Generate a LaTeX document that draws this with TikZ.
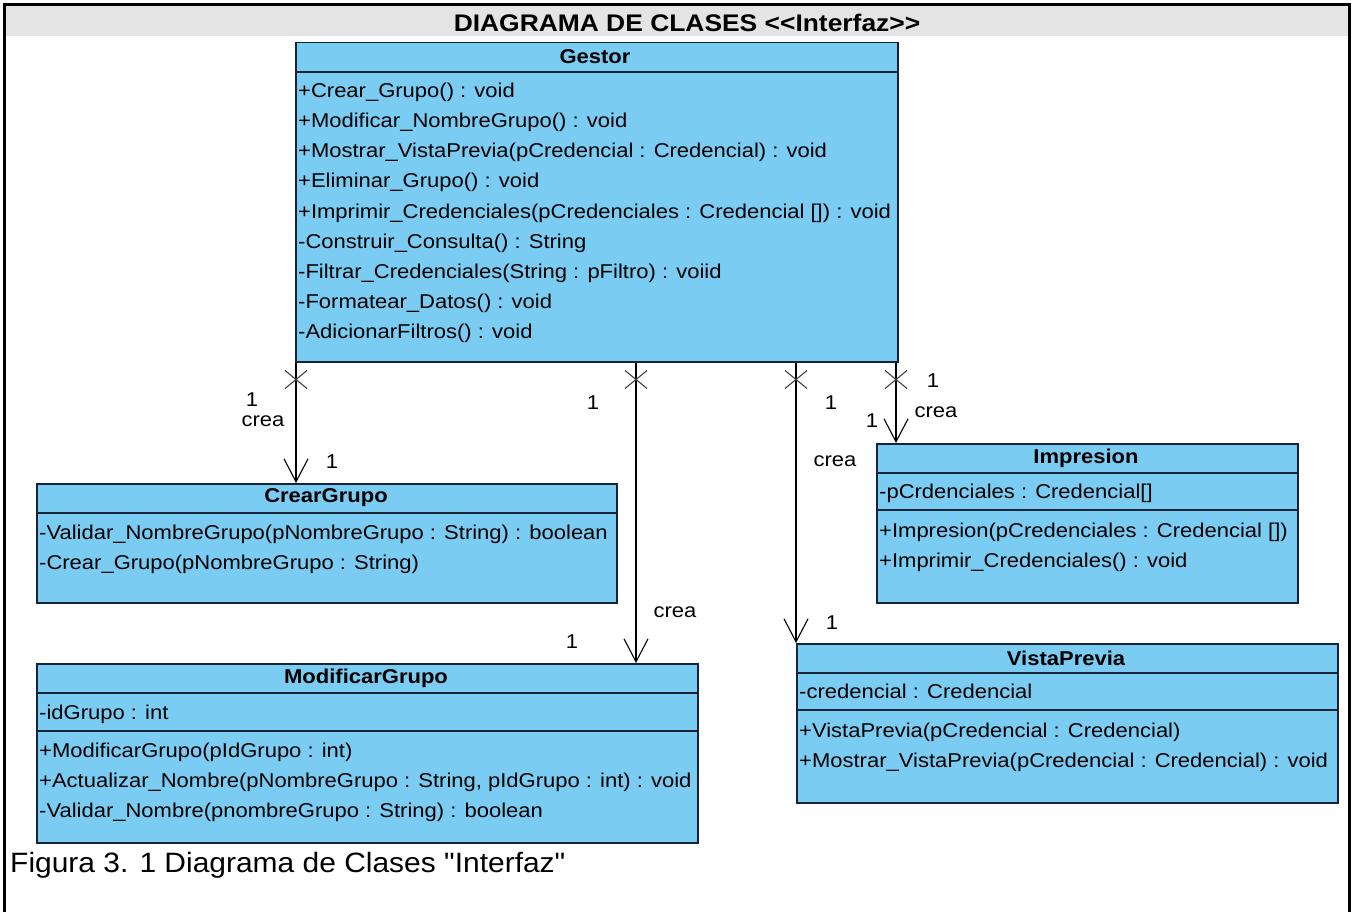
\documentclass[tikz,border=0pt]{standalone}
\usepackage{fontspec}
\setmainfont{Liberation Sans}
\newfontfamily\umlfont[FakeStretch=1.1]{Liberation Sans}
\newfontfamily\capfont[FakeStretch=1.07]{Liberation Sans}
\usetikzlibrary{arrows.meta}
\definecolor{classfill}{RGB}{122,204,242}
\definecolor{classline}{RGB}{25,35,55}
\definecolor{barfill}{RGB}{228,228,228}
\tikzset{
  classbox/.style={draw=classline, fill=classfill, line width=1.5pt, inner sep=0pt, anchor=north west},
  sepline/.style={draw=classline, line width=1.5pt},
  member/.style={anchor=base west, inner sep=0pt, font=\umlfont\fontsize{20}{24}\selectfont},
  classname/.style={inner sep=0pt, font=\umlfont\fontsize{20}{24}\selectfont\bfseries},
  lbl/.style={inner sep=0pt, font=\umlfont\fontsize{20}{24}\selectfont},
  assoc/.style={draw=black, line width=1.1pt, -{Straight Barb[length=23pt, width=24pt, line width=1.1pt]}},
  xmark/.style={draw=black!75, line width=1.1pt}
}
\begin{document}
\begin{tikzpicture}[x=1pt, y=-1pt]
\useasboundingbox (0,0) rectangle (1356,912);
\fill[white] (0,0) rectangle (1356,912);

% header bar and frame
\fill[barfill] (6,6) rectangle (1348,36);
\node[font=\fontsize{24}{28}\selectfont\bfseries\umlfont] (title) at (687,23) {DIAGRAMA DE CLASES <{}<Interfaz>{}>};
\draw[line width=3pt] (4.5,912) -- (4.5,4.5) -- (1349.5,4.5) -- (1349.5,912);

% ---------- Gestor ----------
\node[classbox, minimum width=602pt, minimum height=319pt] (gestor) at (295,42) {};
\draw[sepline] ([yshift=-30pt]gestor.north west) -- ([yshift=-30pt]gestor.north east);
\node[classname] (gestorname) at (595,57) {Gestor};
\node[member] (g1) at (298,98) {+Crear\_Grupo() : void};
\node[member] (g2) at (298,128) {+Modificar\_NombreGrupo() : void};
\node[member] (g3) at (298,158) {+Mostrar\_VistaPrevia(pCredencial : Credencial) : void};
\node[member] (g4) at (298,188) {+Eliminar\_Grupo() : void};
\node[member] (g5) at (298,218) {+Imprimir\_Credenciales(pCredenciales : Credencial []) : void};
\node[member] (g6) at (298,248) {-Construir\_Consulta() : String};
\node[member] (g7) at (298,278) {-Filtrar\_Credenciales(String : pFiltro) : voiid};
\node[member] (g8) at (298,308) {-Formatear\_Datos() : void};
\node[member] (g9) at (298,338) {-AdicionarFiltros() : void};

% ---------- CrearGrupo ----------
\node[classbox, minimum width=580pt, minimum height=119pt] (crear) at (36,483) {};
\draw[sepline] ([yshift=-30pt]crear.north west) -- ([yshift=-30pt]crear.north east);
\node[classname] (crearname) at (326,498) {CrearGrupo};
\node[member] (c1) at (39,539) {-Validar\_NombreGrupo(pNombreGrupo : String) : boolean};
\node[member] (c2) at (39,569) {-Crear\_Grupo(pNombreGrupo : String)};

% ---------- ModificarGrupo ----------
\node[classbox, minimum width=661pt, minimum height=179pt] (modificar) at (36,663) {};
\draw[sepline] ([yshift=-30pt]modificar.north west) -- ([yshift=-30pt]modificar.north east);
\draw[sepline] ([yshift=-68pt]modificar.north west) -- ([yshift=-68pt]modificar.north east);
\node[classname] (modname) at (366,678) {ModificarGrupo};
\node[member] (m0) at (39,719) {-idGrupo : int};
\node[member] (m1) at (39,757) {+ModificarGrupo(pIdGrupo : int)};
\node[member] (m2) at (39,787) {+Actualizar\_Nombre(pNombreGrupo : String, pIdGrupo : int) : void};
\node[member] (m3) at (39,817) {-Validar\_Nombre(pnombreGrupo : String) : boolean};

% ---------- Impresion ----------
\node[classbox, minimum width=421pt, minimum height=159pt] (impresion) at (876,443) {};
\draw[sepline] ([yshift=-30pt]impresion.north west) -- ([yshift=-30pt]impresion.north east);
\draw[sepline] ([yshift=-67pt]impresion.north west) -- ([yshift=-67pt]impresion.north east);
\node[classname] (impname) at (1086,458) {Impresion};
\node[member] (i0) at (879,498) {-pCrdenciales : Credencial[]};
\node[member] (i1) at (879,537) {+Impresion(pCredenciales : Credencial [])};
\node[member] (i2) at (879,567) {+Imprimir\_Credenciales() : void};

% ---------- VistaPrevia ----------
\node[classbox, minimum width=541pt, minimum height=159pt] (vista) at (796,643) {};
\draw[sepline] ([yshift=-30pt]vista.north west) -- ([yshift=-30pt]vista.north east);
\draw[sepline] ([yshift=-67pt]vista.north west) -- ([yshift=-67pt]vista.north east);
\node[classname] (vistaname) at (1066,658) {VistaPrevia};
\node[member] (v0) at (799,698) {-credencial : Credencial};
\node[member] (v1) at (799,737) {+VistaPrevia(pCredencial : Credencial)};
\node[member] (v2) at (799,767) {+Mostrar\_VistaPrevia(pCredencial : Credencial) : void};

% ---------- associations (Gestor creates each class) ----------
\coordinate (k1) at (296,0);
\coordinate (k2) at (636,0);
\coordinate (k3) at (796,0);
\coordinate (k4) at (896,0);

\draw[assoc] (gestor.south -| k1) -- (crear.north -| k1);
\draw[assoc] (gestor.south -| k2) -- (modificar.north -| k2);
\draw[assoc] (gestor.south -| k3) -- (vista.north -| k3);
\draw[assoc] (gestor.south -| k4) -- (impresion.north -| k4);

% non-navigable ends
\foreach \k in {k1,k2,k3,k4}{
  \path (gestor.south -| \k) ++(0,17) coordinate (xm);
  \draw[xmark] (xm) ++(-11,-9) -- ++(22,18) (xm) ++(-11,9) -- ++(22,-18);
}

% multiplicities and role names
\node[lbl] (a1s) at (252,400) {1};
\node[lbl] (a1n) at (263,421) {crea};
\node[lbl] (a1t) at (332,462) {1};

\node[lbl] (a2s) at (593,403) {1};
\node[lbl] (a2n) at (675,612) {crea};
\node[lbl] (a2t) at (572,642) {1};

\node[lbl] (a3s) at (831,403) {1};
\node[lbl] (a3n) at (835,461) {crea};
\node[lbl] (a3t) at (832,623) {1};

\node[lbl] (a4s) at (933,381) {1};
\node[lbl] (a4n) at (936,412) {crea};
\node[lbl] (a4t) at (872,421) {1};

% caption
\node[anchor=west, inner sep=0pt, font=\capfont\fontsize{28}{32}\selectfont] (caption) at (10,865) {Figura 3. 1 Diagrama de Clases "Interfaz"};
\end{tikzpicture}
\end{document}
